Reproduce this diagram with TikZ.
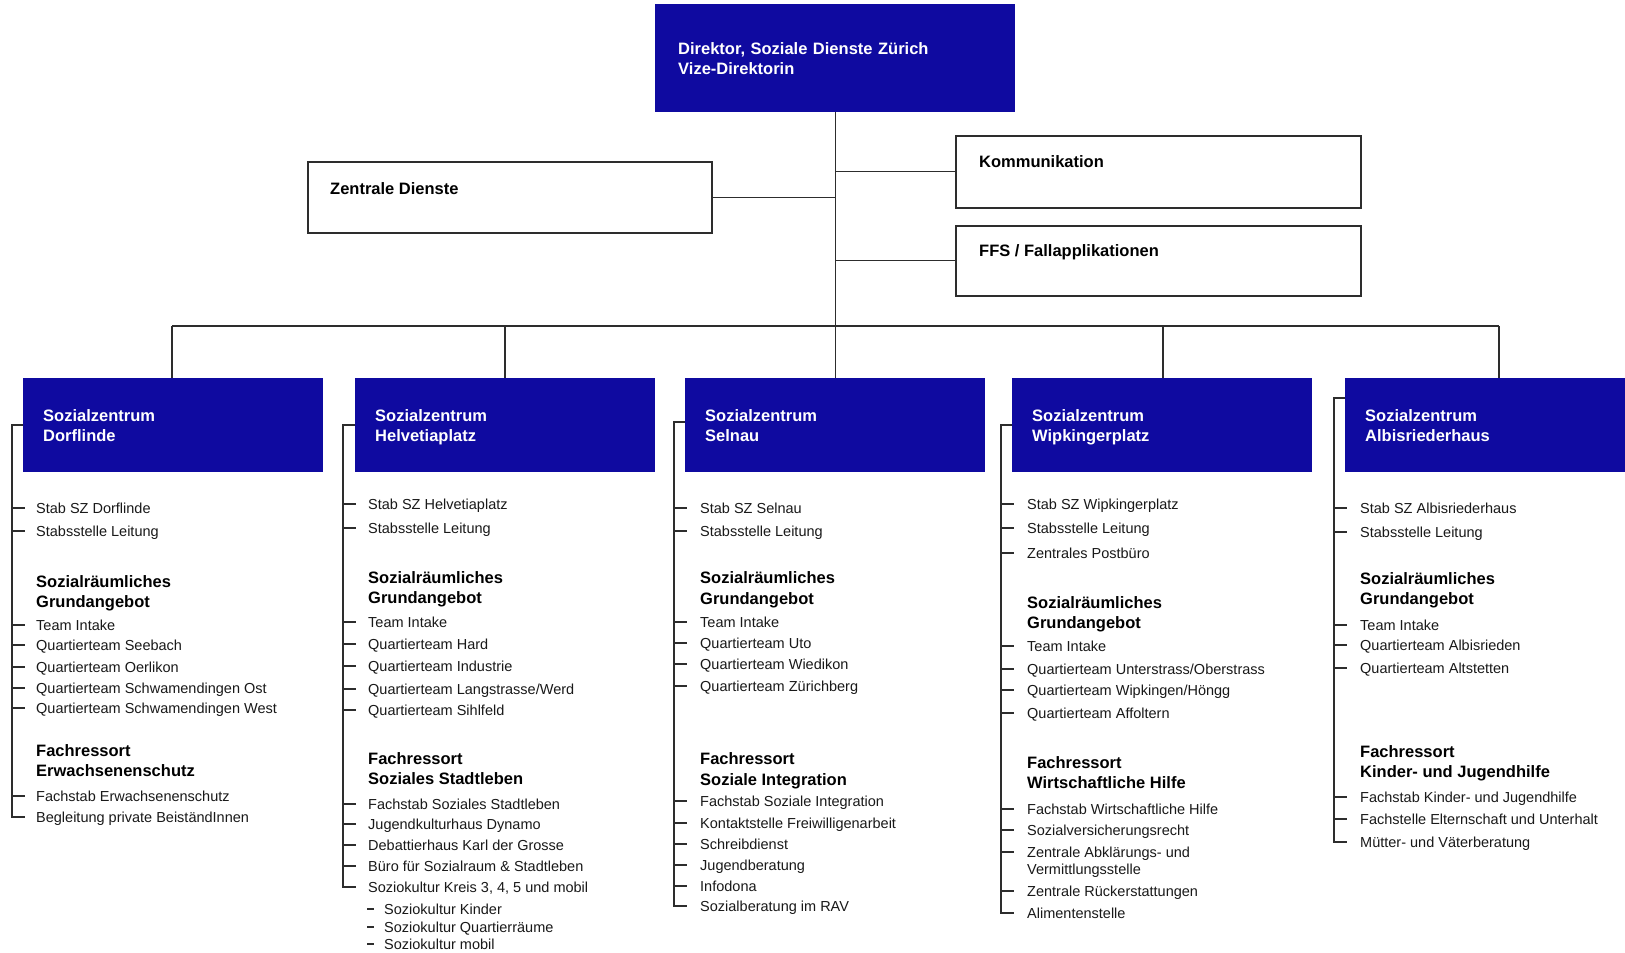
\documentclass[tikz,border=0pt]{standalone}
\usepackage{fontspec}
\setmainfont{Liberation Sans}
\usetikzlibrary{calc}
\definecolor{szblue}{RGB}{15,10,160}
\definecolor{lncol}{RGB}{45,45,45}
\definecolor{txcol}{RGB}{25,25,25}
\newcommand{\itm}[4]{\node[itm] (#1) at (#2,#3) {#4};}
\newcommand{\hdg}[4]{\node[hdg] (#1) at (#2,#3) {#4};}
\begin{document}
\begin{tikzpicture}[x=1pt,y=-1pt,
  itm/.style={anchor=west,inner sep=0pt,text height=10.5pt,text depth=0.5pt,font=\fontsize{14.5}{17}\selectfont,text=txcol},
  hdg/.style={anchor=west,inner sep=0pt,text height=11.5pt,text depth=0.5pt,font=\fontsize{16.5}{20}\selectfont\bfseries,text=black},
  conn/.style={draw=lncol,line width=1.3pt},
  tick/.style={draw=lncol,line width=1.2pt},
  szbox/.style={fill=szblue,draw=none,anchor=north west,inner ysep=0pt,inner xsep=20pt,text width=260pt,text depth=20pt,minimum height=94pt,align=left,text=white,font=\fontsize{16.5}{20}\selectfont\bfseries},
  wbox/.style={draw=lncol,line width=1.5pt,fill=white,anchor=north west,inner sep=0pt},
  wlbl/.style={anchor=west,inner sep=0pt,font=\fontsize{16.5}{20}\selectfont\bfseries,text=black}
]
\useasboundingbox (0,0) rectangle (1625,953);
\clip (0,0) rectangle (1625,953);
\fill[white] (0,0) rectangle (1625,953);

% top box
\node[fill=szblue,draw=none,anchor=north west,inner ysep=0pt,inner xsep=23pt,text width=314pt,minimum height=108pt,align=left,text=white,font=\fontsize{16.5}{20}\selectfont\bfseries] (dir) at (655,4) {Direktor, Soziale Dienste Zürich\\Vize-Direktorin};

% staff boxes
\node[wbox,minimum width=404pt,minimum height=71pt] (zd) at (307,161) {};
\node[wlbl] (zdl) at (330,189) {Zentrale Dienste};
\node[wbox,minimum width=405pt,minimum height=72pt] (kom) at (955,135) {};
\node[wlbl] (koml) at (979,162) {Kommunikation};
\node[wbox,minimum width=405pt,minimum height=70pt] (ffs) at (955,225) {};
\node[wlbl] (ffsl) at (979,252) {FFS / Fallapplikationen};

% Sozialzentren
\node[szbox] (sz1) at (23,378) {Sozialzentrum\\Dorflinde};
\node[szbox] (sz2) at (355,378) {Sozialzentrum\\Helvetiaplatz};
\node[szbox] (sz3) at (685,378) {Sozialzentrum\\Selnau};
\node[szbox] (sz4) at (1012,378) {Sozialzentrum\\Wipkingerplatz};
\node[szbox] (sz5) at (1345,378) {Sozialzentrum\\Albisriederhaus};

% top connectors
\coordinate (busy) at (0,326);
\coordinate (b1) at (172,326);
\coordinate (b2) at (505,326);
\coordinate (b4) at (1163,326);
\coordinate (b5) at (1499,326);
\coordinate (b3) at (dir.south |- busy);
\draw[conn] (dir.south) -- (b3);
\draw[conn] (zd.east) -- (zd.east -| dir.south);
\draw[conn] (kom.west) -- (kom.west -| dir.south);
\draw[conn] (ffs.west) -- (ffs.west -| dir.south);
\draw[conn] (b1) -- (b5);
\draw[conn] (b1) -- (b1 |- sz1.north);
\draw[conn] (b2) -- (b2 |- sz2.north);
\draw[conn] (b3) -- (sz3.north);
\draw[conn] (b4) -- (b4 |- sz4.north);
\draw[conn] (b5) -- (b5 |- sz5.north);

% ---- SZ1
\itm{a1}{36}{508}{Stab SZ Dorflinde}
\itm{a2}{36}{531}{Stabsstelle Leitung}
\hdg{ah1}{36}{582}{Sozialräumliches}
\hdg{ah2}{36}{602}{Grundangebot}
\itm{a3}{36}{625}{Team Intake}
\itm{a4}{36}{645}{Quartierteam Seebach}
\itm{a5}{36}{667}{Quartierteam Oerlikon}
\itm{a6}{36}{688}{Quartierteam Schwamendingen Ost}
\itm{a7}{36}{708}{Quartierteam Schwamendingen West}
\hdg{ah3}{36}{751}{Fachressort}
\hdg{ah4}{36}{771}{Erwachsenenschutz}
\itm{a8}{36}{796}{Fachstab Erwachsenenschutz}
\itm{a9}{36}{817}{Begleitung private BeiständInnen}
\coordinate (v1) at (12,425);
\draw[conn] (sz1.west |- v1) -- (v1) -- (v1 |- a9.west) -- ++(13,0);
\foreach \n in {a1,a2,a3,a4,a5,a6,a7,a8} \draw[tick] (v1 |- \n.west) -- ++(13,0);

% ---- SZ2
\itm{c1}{368}{504}{Stab SZ Helvetiaplatz}
\itm{c2}{368}{528}{Stabsstelle Leitung}
\hdg{ch1}{368}{578}{Sozialräumliches}
\hdg{ch2}{368}{598}{Grundangebot}
\itm{c3}{368}{622}{Team Intake}
\itm{c4}{368}{644}{Quartierteam Hard}
\itm{c5}{368}{666}{Quartierteam Industrie}
\itm{c6}{368}{689}{Quartierteam Langstrasse/Werd}
\itm{c7}{368}{710}{Quartierteam Sihlfeld}
\hdg{ch3}{368}{759}{Fachressort}
\hdg{ch4}{368}{779}{Soziales Stadtleben}
\itm{c8}{368}{804}{Fachstab Soziales Stadtleben}
\itm{c9}{368}{824}{Jugendkulturhaus Dynamo}
\itm{c10}{368}{845}{Debattierhaus Karl der Grosse}
\itm{c11}{368}{866}{Büro für Sozialraum \& Stadtleben}
\itm{c12}{368}{887}{Soziokultur Kreis 3, 4, 5 und mobil}
\itm{c13}{384}{909}{Soziokultur Kinder}
\itm{c14}{384}{927}{Soziokultur Quartierräume}
\itm{c15}{384}{944}{Soziokultur mobil}
\coordinate (v2) at (343,425);
\draw[conn] (sz2.west |- v2) -- (v2) -- (v2 |- c12.west) -- ++(13,0);
\foreach \n in {c1,c2,c3,c4,c5,c6,c7,c8,c9,c10,c11} \draw[tick] (v2 |- \n.west) -- ++(13,0);
\foreach \n in {c13,c14,c15} \draw[tick] ($(\n.west)+(-17,0)$) -- ++(7,0);

% ---- SZ3
\itm{d1}{700}{508}{Stab SZ Selnau}
\itm{d2}{700}{531}{Stabsstelle Leitung}
\hdg{dh1}{700}{578}{Sozialräumliches}
\hdg{dh2}{700}{599}{Grundangebot}
\itm{d3}{700}{622}{Team Intake}
\itm{d4}{700}{643}{Quartierteam Uto}
\itm{d5}{700}{664}{Quartierteam Wiedikon}
\itm{d6}{700}{686}{Quartierteam Zürichberg}
\hdg{dh3}{700}{759}{Fachressort}
\hdg{dh4}{700}{780}{Soziale Integration}
\itm{d7}{700}{801}{Fachstab Soziale Integration}
\itm{d8}{700}{823}{Kontaktstelle Freiwilligenarbeit}
\itm{d9}{700}{844}{Schreibdienst}
\itm{d10}{700}{865}{Jugendberatung}
\itm{d11}{700}{886}{Infodona}
\itm{d12}{700}{906}{Sozialberatung im RAV}
\coordinate (v3) at (674,422);
\draw[conn] (sz3.west |- v3) -- (v3) -- (v3 |- d12.west) -- ++(13,0);
\foreach \n in {d1,d2,d3,d4,d5,d6,d7,d8,d9,d10,d11} \draw[tick] (v3 |- \n.west) -- ++(13,0);

% ---- SZ4
\itm{e1}{1027}{504}{Stab SZ Wipkingerplatz}
\itm{e2}{1027}{528}{Stabsstelle Leitung}
\itm{e3}{1027}{553}{Zentrales Postbüro}
\hdg{eh1}{1027}{603}{Sozialräumliches}
\hdg{eh2}{1027}{623}{Grundangebot}
\itm{e4}{1027}{646}{Team Intake}
\itm{e5}{1027}{669}{Quartierteam Unterstrass/Oberstrass}
\itm{e6}{1027}{690}{Quartierteam Wipkingen/Höngg}
\itm{e7}{1027}{713}{Quartierteam Affoltern}
\hdg{eh3}{1027}{763}{Fachressort}
\hdg{eh4}{1027}{783}{Wirtschaftliche Hilfe}
\itm{e8}{1027}{809}{Fachstab Wirtschaftliche Hilfe}
\itm{e9}{1027}{830}{Sozialversicherungsrecht}
\itm{e10}{1027}{852}{Zentrale Abklärungs- und}
\itm{e10b}{1027}{869}{Vermittlungsstelle}
\itm{e11}{1027}{891}{Zentrale Rückerstattungen}
\itm{e12}{1027}{913}{Alimentenstelle}
\coordinate (v4) at (1001,425);
\draw[conn] (sz4.west |- v4) -- (v4) -- (v4 |- e12.west) -- ++(13,0);
\foreach \n in {e1,e2,e3,e4,e5,e6,e7,e8,e9,e10,e11} \draw[tick] (v4 |- \n.west) -- ++(13,0);

% ---- SZ5
\itm{f1}{1360}{508}{Stab SZ Albisriederhaus}
\itm{f2}{1360}{532}{Stabsstelle Leitung}
\hdg{fh1}{1360}{579}{Sozialräumliches}
\hdg{fh2}{1360}{599}{Grundangebot}
\itm{f3}{1360}{625}{Team Intake}
\itm{f4}{1360}{645}{Quartierteam Albisrieden}
\itm{f5}{1360}{668}{Quartierteam Altstetten}
\hdg{fh3}{1360}{752}{Fachressort}
\hdg{fh4}{1360}{772}{Kinder- und Jugendhilfe}
\itm{f6}{1360}{797}{Fachstab Kinder- und Jugendhilfe}
\itm{f7}{1360}{819}{Fachstelle Elternschaft und Unterhalt}
\itm{f8}{1360}{842}{Mütter- und Väterberatung}
\coordinate (v5) at (1334,398);
\draw[conn] (sz5.west |- v5) -- (v5) -- (v5 |- f8.west) -- ++(13,0);
\foreach \n in {f1,f2,f3,f4,f5,f6,f7} \draw[tick] (v5 |- \n.west) -- ++(13,0);
\end{tikzpicture}
\end{document}
